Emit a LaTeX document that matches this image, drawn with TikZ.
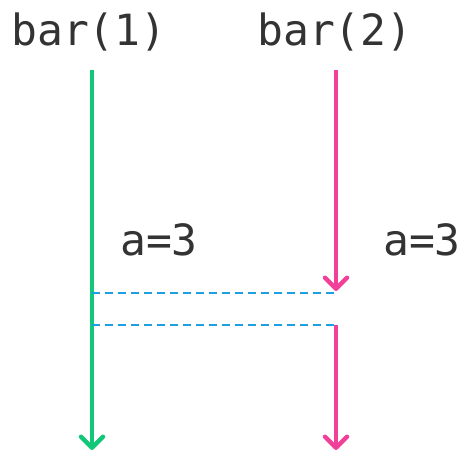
\documentclass[tikz,border=0pt]{standalone}
\usepackage{fontspec}
\setmonofont{DejaVu Sans Mono}
\usetikzlibrary{arrows.meta}
\definecolor{callgreen}{HTML}{12C878}
\definecolor{callpink}{HTML}{F2409A}
\definecolor{linkblue}{HTML}{1CA0E0}
\begin{document}
\begin{tikzpicture}[
                x=1pt, y=-1pt,
                label/.style={text=black!80, font=\fontsize{43}{50}\selectfont\ttfamily, inner sep=0pt},
                flow/.style={line width=4.5pt, -{Straight Barb[length=11pt, width=22pt, line width=4.5pt, round]}},
                link/.style={linkblue, line width=2pt, dash pattern=on 8pt off 5pt}
            ]
            \useasboundingbox (0,0) rectangle (461,453);

            % Titles
            \node[label] (bar1) at (89, 32) {bar(1)};
            \node[label] (bar2) at (335, 32) {bar(2)};

            % Values
            \node[label] (val1) at (159, 240) {a=3};
            \node[label] (val2) at (422, 240) {a=3};

            % Lifelines
            \coordinate (g1top) at (92, 70);
            \coordinate (g1bot) at (92, 450);
            \coordinate (p2top) at (336, 70);
            \coordinate (p2stop) at (336, 291);
            \coordinate (p2go) at (336, 325);
            \coordinate (p2bot) at (336, 450);
            \draw[flow, callgreen] (g1top) -- (g1bot);
            \draw[flow, callpink] (p2top) -- (p2stop);
            \draw[flow, callpink] (p2go) -- (p2bot);

            % Links
            \coordinate (g1a) at (92, 293);
            \coordinate (g1b) at (92, 325);
            \coordinate (p2a) at (334, 293);
            \coordinate (p2b) at (334, 325);
            \draw[link] (g1a) -- (p2a);
            \draw[link] (g1b) -- (p2b);
            \end{tikzpicture}
\end{document}
